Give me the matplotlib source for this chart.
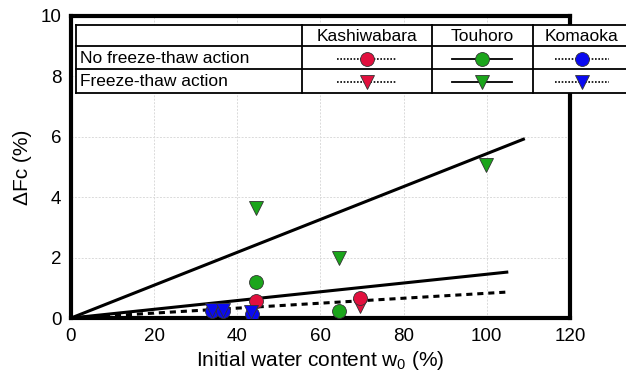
import matplotlib
matplotlib.use("Agg")
import matplotlib.pyplot as plt
from matplotlib.lines import Line2D
from matplotlib.patches import Rectangle

plt.rcParams['font.family'] = ['Liberation Sans', 'DejaVu Sans']

# Initial water content (%) and change in fines content (%)
kashi_nf_x = [44.5, 69.5]
kashi_nf_y = [0.55, 0.65]
kashi_ft_x = [69.5]
kashi_ft_y = [0.40]

touh_nf_x = [44.5, 64.5]
touh_nf_y = [1.20, 0.22]
touh_ft_x = [44.5, 64.5, 99.8]
touh_ft_y = [3.65, 2.00, 5.05]

koma_nf_x = [33.8, 36.5, 43.5]
koma_nf_y = [0.22, 0.22, 0.12]
koma_ft_x = [33.8, 36.5, 43.4]
koma_ft_y = [0.27, 0.27, 0.20]

# Fitted trend lines through the origin: (x end, y end)
fit_ft_x = [0, 108.8]
fit_ft_y = [0, 5.92]
fit_nf_x = [0, 104.8]
fit_nf_y = [0, 1.52]
fit_koma_x = [0, 104.8]
fit_koma_y = [0, 0.86]

x_ticks = [0, 20, 40, 60, 80, 100, 120]
y_ticks = [0, 2, 4, 6, 8, 10]

sites = ["Kashiwabara", "Touhoro", "Komaoka"]
conditions = ["No freeze-thaw action", "Freeze-thaw action"]

RED = "#E2103E"
GREEN = "#1BA51B"
BLUE = "#0A0AF0"

fig = plt.figure(figsize=(6.26, 3.80), dpi=100)
ax = fig.add_axes([0.1134, 0.163, 0.7971, 0.795])

ax.plot(fit_ft_x, fit_ft_y, color="black", lw=2.2, zorder=2)
ax.plot(fit_nf_x, fit_nf_y, color="black", lw=2.2, zorder=2)
ax.plot(fit_koma_x, fit_koma_y, color="black", lw=2.2, ls=(0, (2, 1.6)), zorder=2)

mk = dict(ms=10, mec="#333333", mew=0.6, ls="none", zorder=3)
ax.plot(touh_nf_x, touh_nf_y, "o", color=GREEN, **mk)
ax.plot(touh_ft_x, touh_ft_y, "v", color=GREEN, **mk)
ax.plot(kashi_ft_x, kashi_ft_y, "v", color=RED, **mk)
ax.plot(kashi_nf_x, kashi_nf_y, "o", color=RED, **mk)
ax.plot(koma_nf_x, koma_nf_y, "o", color=BLUE, **mk)
ax.plot(koma_ft_x, koma_ft_y, "v", color=BLUE, **mk)

ax.set_xlim(0, 120)
ax.set_ylim(0, 10)
ax.set_xticks(x_ticks)
ax.set_yticks(y_ticks)
ax.tick_params(length=0, labelsize=13.5, pad=7)
ax.grid(True, color="#DADADA", lw=0.7, ls=(0, (2, 1.5)))
ax.set_axisbelow(True)
for s in ax.spines.values():
    s.set_linewidth(3)
    s.set_color("black")

ax.set_xlabel("Initial water content w$_\\mathregular{0}$ (%)", fontsize=15, labelpad=3)
ax.set_ylabel("ΔFc (%)", fontsize=15, labelpad=6)

# Legend table drawn in pixel coordinates over the figure
tab = fig.add_axes([0, 0, 1, 1], facecolor="none")
tab.set_xlim(0, 626)
tab.set_ylim(380, 0)
tab.axis("off")

rows = [25, 46, 69, 93]
cols = [76, 302, 432, 533, 650]
tab.add_patch(Rectangle((cols[0], rows[0]), cols[-1] - cols[0], rows[-1] - rows[0],
                        facecolor="white", edgecolor="none", clip_on=False, zorder=1))
for r in rows:
    tab.add_line(Line2D([cols[0], cols[-1]], [r, r], color="black", lw=1.3, clip_on=False, zorder=2))
for c in cols[:-1]:
    tab.add_line(Line2D([c, c], [rows[0], rows[-1]], color="black", lw=1.3, clip_on=False, zorder=2))

centers = [367, 482, 582]
for cx, name in zip(centers, sites):
    tab.text(cx, (rows[0] + rows[1]) / 2 + 1, name, ha="center", va="center", fontsize=12.5, zorder=3)
for j, cond in enumerate(conditions):
    tab.text(cols[0] + 4, (rows[j + 1] + rows[j + 2]) / 2 + 1, cond, ha="left", va="center",
             fontsize=12.5, zorder=3)

samples = [(RED, 30, (0, (1, 1))), (GREEN, 30, "-"), (BLUE, 27, (0, (1, 1)))]
for cx, (col, half, ls) in zip(centers, samples):
    for j, m in enumerate(["o", "v"]):
        cy = (rows[j + 1] + rows[j + 2]) / 2 + 1
        tab.add_line(Line2D([cx - half, cx + half], [cy, cy], color="black",
                            lw=1.3 if ls == "-" else 1.2, ls=ls, clip_on=False, zorder=3))
        tab.add_line(Line2D([cx], [cy], marker=m, ms=10, color=col, mec="#333333", mew=0.6,
                            clip_on=False, zorder=4))

fig.savefig("out.png", dpi=100)
